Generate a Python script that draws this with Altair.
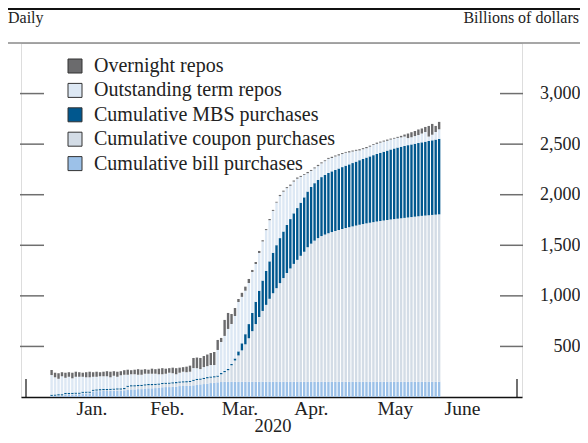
import altair as alt
import pandas as pd

SERIF = "Liberation Serif"

header_left = "Daily"
header_right = "Billions of dollars"
months = ["Jan.", "Feb.", "Mar.", "Apr.", "May", "June"]
year_label = "2020"
y_ticks = [500, 1000, 1500, 2000, 2500, 3000]
series = ["Overnight repos", "Outstanding term repos", "Cumulative MBS purchases",
          "Cumulative coupon purchases", "Cumulative bill purchases"]
colors = ["#6b6b6d", "#dde8f4", "#00578e", "#d3dce6", "#9cc1e8"]

# daily values, billions of dollars (one per business day, mid-Dec 2019 .. late May 2020)
bill = [8, 10, 12, 12,
        25, 25, 25, 27, 27,
        36, 36, 36,
        55, 58, 58, 60, 60,
        62, 62, 64, 64, 66,
        72, 75, 75, 78, 78,
        84, 86, 86, 88, 90,
        96, 98, 98, 100, 102,
        108, 109, 110, 112, 115,
        122, 125, 128, 132,
        138, 140, 145, 148] + [151] * 63

coupon = [3, 3, 4, 4, 4, 4, 5, 5, 5, 5, 6, 6, 6, 6, 8, 8, 8, 8, 10, 10, 10, 12,
          28, 30, 30, 30, 31,
          30, 31, 31, 31, 32, 32, 32,
          33, 34, 34, 34, 35, 35, 36,
          44, 46, 46,
          50, 53, 53, 54, 55,
          77, 95, 114, 163,
          210, 260, 310, 370, 430, 500, 570, 640, 700, 760, 820, 875, 925, 975,
          1025, 1075, 1120, 1165, 1205, 1245, 1285, 1330, 1365, 1395, 1420, 1440, 1455, 1468,
          1480, 1490, 1500, 1510, 1520, 1528, 1536, 1544, 1552, 1559, 1566, 1572, 1578, 1584,
          1589, 1594, 1599, 1604, 1608, 1612, 1616, 1620, 1624, 1628, 1632, 1636, 1640, 1643,
          1646, 1649, 1652, 1655]

mbs = [12] * 53 + [
    20, 40, 70, 100, 140, 180, 220, 260, 300, 335, 370, 400, 425, 445, 460, 475, 488, 500,
    512, 525, 538, 550, 560, 568, 576, 583, 590, 596,
    600, 604, 608, 612, 616, 621, 626, 632, 638, 644, 650, 656, 662, 668, 674, 680, 686,
    692, 698, 703, 707, 711, 715, 718, 721, 724, 727, 730, 734, 738, 742, 746]

overnight = [50, 45, 55, 40, 50, 45, 55, 50, 45, 40, 50, 55, 45, 50, 40, 45, 50, 55, 45, 50, 40,
             45, 50, 40, 45, 55, 50, 45, 40, 50, 45, 55, 60, 50, 45, 55, 60, 50, 45, 55, 60,
             100, 105, 110, 109, 115, 119, 129, 99, 40, 158, 158, 99, 79, 30, 40, 40, 40, 20, 20, 20,
             12, 10, 12, 10, 8, 12, 10, 10, 12, 10, 12, 10, 8, 12, 10, 10, 12, 10, 8, 10,
             12, 10, 12, 10, 8, 12, 10, 10, 12, 10, 12, 10, 8, 12, 10, 10, 12, 10, 8, 10,
             15, 20, 45, 50, 50, 55, 50, 50, 105, 107, 60, 73]

total = [267, 240, 235, 245, 240, 245, 240, 250, 245, 240, 245, 250, 245, 250, 245, 250, 255, 250, 255, 250, 255,
         265, 270, 265, 270, 275, 270, 275, 270, 280, 275, 280, 285, 280, 285, 290, 285, 290, 295, 300, 310,
         386, 390, 386, 405, 420, 435, 445, 564, 584, 762, 831, 821, 880, 969, 1030, 1091, 1167, 1256, 1335, 1444,
         1550, 1660, 1760, 1850, 1930, 1998, 2040, 2075, 2100, 2140, 2170, 2186, 2205, 2225, 2245, 2270, 2295,
         2320, 2340, 2364,
         2375, 2388, 2400, 2412, 2423, 2430, 2437, 2444, 2450, 2460, 2472, 2485, 2500, 2515, 2525, 2535,
         2545, 2555, 2562, 2572, 2582, 2595, 2605, 2618, 2630, 2645, 2655, 2670, 2680, 2700, 2680, 2720]

rows = []
for i in range(len(bill)):
    term = total[i] - overnight[i] - mbs[i] - coupon[i] - bill[i]
    parts = [("Cumulative bill purchases", bill[i]),
             ("Cumulative coupon purchases", coupon[i]),
             ("Cumulative MBS purchases", mbs[i]),
             ("Outstanding term repos", term),
             ("Overnight repos", overnight[i])]
    base = 0
    for name, v in parts:
        rows.append({"day": i, "series": name, "lo": base, "hi": base + v})
        base += v
df = pd.DataFrame(rows)

# layout constants
W, H = 501, 354
month_pos = [11.5, 33.3, 54.3, 74.9, 99.2, 118.6]
xscale = alt.Scale(domain=[-7.4, 134.5], nice=False, zero=False)
yscale = alt.Scale(domain=[0, 3500], nice=False, zero=True)
label_expr = " : ".join(f"datum.value == {p} ? '{m}'" for p, m in zip(month_pos, months)) + " : ''"

x_axis = alt.Axis(values=month_pos, labelExpr=label_expr, title=None,
                  ticks=False, grid=False, domainColor="#111", domainWidth=1.5,
                  labelFont=SERIF, labelFontSize=19.5, labelColor="#222",
                  labelPadding=2, labelFlush=False)
y_axis = alt.Axis(orient="right", values=y_ticks, format=",.0f", ticks=False, grid=False,
                  domain=False, labelAlign="right", labelBaseline="middle", labelPadding=58,
                  labelFont=SERIF, labelFontSize=18, labelColor="#222", title=None)

bars = alt.Chart(df).mark_bar(size=2.4).encode(
    x=alt.X("day:Q", scale=xscale, axis=x_axis),
    y=alt.Y("lo:Q", scale=yscale, axis=y_axis),
    y2="hi:Q",
    color=alt.Color("series:N", scale=alt.Scale(domain=series, range=colors),
                    legend=alt.Legend(title=None, orient="none", legendX=44, legendY=13,
                                      symbolType="square", symbolSize=196,
                                      symbolStrokeColor="#333", symbolStrokeWidth=1,
                                      symbolOpacity=1,
                                      labelFont=SERIF, labelFontSize=20, labelColor="#222",
                                      labelOffset=9, rowPadding=4.4, padding=0, labelLimit=400)),
)

tick_df = pd.DataFrame({"v": y_ticks})
left_ticks = alt.Chart(tick_df).mark_rule(color="#6f6f6f", strokeWidth=1.5).encode(
    y=alt.Y("v:Q", scale=yscale, axis=y_axis), x=alt.value(-1), x2=alt.value(23))
right_ticks = alt.Chart(tick_df).mark_rule(color="#6f6f6f", strokeWidth=1.5).encode(
    y=alt.Y("v:Q", scale=yscale, axis=y_axis), x=alt.value(479), x2=alt.value(502))

edges = alt.Chart(pd.DataFrame({"e": [-7.4, 134.5]})).mark_rule(color="#111", strokeWidth=1.2).encode(
    x=alt.X("e:Q", scale=xscale, axis=x_axis),
    y=alt.value(336), y2=alt.value(H))

txt_df = pd.DataFrame({"a": [header_left], "b": [header_right], "c": [year_label]})
top_rule = alt.Chart(txt_df).mark_rule(color="#111", strokeWidth=2.2).encode(
    x=alt.value(-13), x2=alt.value(560), y=alt.value(-34))
sub_rule = alt.Chart(txt_df).mark_rule(color="#8a8a8a", strokeWidth=1.5).encode(
    x=alt.value(-13), x2=alt.value(560), y=alt.value(0))
left_txt = alt.Chart(txt_df).mark_text(font=SERIF, fontSize=16, align="left", baseline="alphabetic",
                                       color="#222").encode(
    text="a:N", x=alt.value(-13), y=alt.value(-20))
right_txt = alt.Chart(txt_df).mark_text(font=SERIF, fontSize=16, align="right", baseline="alphabetic",
                                        color="#222").encode(
    text="b:N", x=alt.value(558), y=alt.value(-20))
year_txt = alt.Chart(txt_df).mark_text(font=SERIF, fontSize=18.5, align="center", baseline="alphabetic",
                                       color="#222").encode(
    text="c:N", x=alt.value(252), y=alt.value(389))

chart = alt.layer(bars, left_ticks, right_ticks, edges, top_rule, sub_rule,
                  left_txt, right_txt, year_txt).properties(
    width=W, height=H,
    padding={"left": 13, "top": 35, "right": 58, "bottom": 38},
    autosize=alt.AutoSizeParams(type="none"),
).configure_view(stroke=None).configure(background="white")

chart.save("out.html", embed_options={"renderer": "svg", "actions": False})
